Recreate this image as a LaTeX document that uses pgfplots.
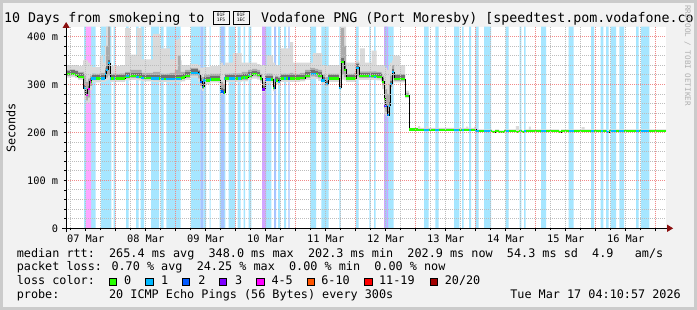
\documentclass[border=0pt]{standalone}
\usepackage{fontspec}
\setmainfont{DejaVu Sans Mono}
\setmonofont{DejaVu Sans Mono}
\usepackage{xcolor}
\usepackage{pgfplots}
\pgfplotsset{compat=1.18}
\usepackage{pgfplotstable}
\usetikzlibrary{arrows.meta}
\definecolor{bgc}{HTML}{F2F2F2}
\definecolor{shA}{HTML}{CBCBCB}
\definecolor{cA}{HTML}{26FF00}
\definecolor{cB}{HTML}{00B8FF}
\definecolor{cC}{HTML}{0059FF}
\definecolor{cD}{HTML}{7E00FF}
\definecolor{cE}{HTML}{FF00FF}
\definecolor{cF}{HTML}{FF5500}
\definecolor{cG}{HTML}{FF0000}
\definecolor{cH}{HTML}{A10000}
\colorlet{bandB}{cB!35!white}
\colorlet{bandC}{cC!35!white}
\colorlet{bandD}{cD!35!white}
\colorlet{bandE}{cE!35!white}
\definecolor{smokeA}{HTML}{DADADA}
\definecolor{smokeB}{HTML}{ABABAB}
\definecolor{smokeC}{HTML}{707070}
\definecolor{mgrid}{HTML}{F08A8A}
\definecolor{ngrid}{HTML}{BDBDBD}
\definecolor{arrowred}{HTML}{8B1010}
\definecolor{wmark}{HTML}{B0B0B0}

\pgfplotsset{base/.style={at={(66.15pt,81.7pt)}, anchor=south west,
  scale only axis, width=600pt, height=201.3pt,
  xmin=4.18, xmax=244.18, ymin=0, ymax=419.4}}

% median rtt (ms) with smoke envelopes; h = hours since 07 Mar 00:00
\pgfplotstableread{
h med lo ilo ihi hi
4.18 321 314 317 330 340
5.72 322 315 318 331 340
7.72 320 313 316 329 340
8.92 316 309 312 326 338
10.92 314 305 309 326 350
11.32 292 268 280 318 352
12.12 277 262 266 305 350
12.92 290 262 272 312 345
13.72 305 288 296 318 340
14.52 312 304 308 322 336
17.7 312 305 308 324 360
19.0 312 305 308 324 345
19.72 322 306 312 335 380
20.12 330 308 314 380 420
20.92 344 310 318 420 420
21.72 312 305 308 322 338
25.72 312 305 308 323 340
27.72 316 308 312 326 417
29.72 317 309 313 330 362
32.4 316 308 312 330 417
34.4 313 306 310 324 352
39.0 312 305 308 326 405
41.7 311 305 308 322 375
45.7 311 305 308 324 352
47.7 312 305 308 330 392
48.9 312 305 308 360 395
50.0 312 305 308 326 350
50.4 314 306 310 326 340
51.72 318 309 313 330 340
53.72 324 314 318 334 342
56.92 321 305 312 330 340
57.72 305 290 296 318 335
58.52 295 286 290 315 335
59.32 308 300 304 320 336
61.72 310 304 307 322 338
64.92 310 303 306 322 340
65.72 285 280 282 305 345
66.92 283 279 281 300 340
67.72 312 305 308 322 345
70.9 312 305 308 323 365
74.4 314 306 309 326 345
76.92 318 309 313 330 345
78.52 321 312 316 332 345
80.52 319 310 314 330 342
81.72 312 303 307 322 340
82.52 289 283 286 305 340
83.72 310 303 306 320 340
84.4 310 303 306 322 360
86.92 292 286 289 312 345
87.72 308 300 304 318 340
88.92 305 298 302 316 340
89.72 312 305 308 322 375
93.72 312 305 308 324 388
95.0 312 305 308 322 345
97.72 313 306 309 324 345
99.72 318 309 313 330 345
101.72 322 312 316 334 345
103.0 322 312 316 334 365
103.72 321 311 315 332 365
104.92 318 307 312 330 365
106.52 308 300 304 320 340
107.72 300 295 297 315 338
108.92 312 305 308 322 340
113.32 293 288 290 312 340
113.72 293 288 290 330 417
114.12 347 310 320 417 420
115.32 330 308 314 380 420
116.12 312 305 308 322 345
119.32 312 305 308 324 345
120.12 334 310 316 345 350
121.32 318 309 313 328 345
121.7 317 309 313 327 375
123.7 317 309 313 327 345
126.4 317 309 313 327 370
128.4 316 308 312 326 340
130.12 315 305 309 325 340
130.52 305 290 297 318 340
131.32 270 240 250 300 340
131.72 254 235 242 290 335
132.52 236 232 234 280 330
133.32 255 240 246 300 340
133.72 300 290 294 318 345
134.52 325 305 312 340 350
135.0 325 305 312 340 360
135.32 311 304 307 321 360
137.72 311 304 307 321 340
139.72 276 271 273 282 287
141.32 206 204 205 207 209
144.92 205 204 204.5 207 213
145.72 205 204 204.5 207 209
148.12 205 204 204.5 207 213
148.92 205 204 204.5 207 209
164.12 205 204 204.5 207 212
164.92 205 204 204.5 207 209
167.32 205 204 204.5 207 212
168.12 202.5 201.5 202 204 206
174.52 200.5 199.5 200 202 204
175.72 202.5 201.5 202 204 206
177.32 201 200 200.5 202.5 204
179.32 202.5 201.5 202 204 206
184.1 201 200 200.5 202.5 213
185.3 202.5 201.5 202 204 206
186.52 200.5 199.5 200 202 204
187.32 202.5 201.5 202 204 206
189.3 202.5 201.5 202 204 212
190.1 202.5 201.5 202 204 206
201.32 200.5 199.5 200 202 204
202.12 202.5 201.5 202 204 206
210.4 202.5 201.5 202 204 211
211.6 202.5 201.5 202 204 206
220.52 200.5 199.5 200 202 204
221.32 202.5 201.5 202 204 206
244.18 202.5 201.5 202 204 206
}\rtt

% loss background bands: start (top) / end (0)
\pgfplotstableread{
h y
11.32 420
12.12 0
14.12 420
16.0 0
18.12 420
22.24 0
23.2 420
23.84 0
28.12 420
29.2 0
32.12 420
33.2 0
34.0 420
35.32 0
38.12 420
41.32 0
42.0 420
43.2 0
44.24 420
50.0 0
54.12 420
57.84 0
59.04 420
60.12 0
61.6 420
62.0 0
65.6 420
67.84 0
69.2 420
71.84 0
72.8 420
74.0 0
75.2 420
75.72 0
77.2 420
78.24 0
84.12 420
86.24 0
88.92 420
89.84 0
91.32 420
92.12 0
101.84 420
104.12 0
106.24 420
109.2 0
113.44 420
114.0 0
120.12 420
121.2 0
125.44 420
126.0 0
127.32 420
128.0 0
132.92 420
135.2 0
147.32 420
149.2 0
151.84 420
153.2 0
159.32 420
161.44 0
162.52 420
163.2 0
165.32 420
166.12 0
167.84 420
169.2 0
171.32 420
174.12 0
180.0 420
181.2 0
185.6 420
186.24 0
187.32 420
188.0 0
194.12 420
196.12 0
205.2 420
207.2 0
214.12 420
215.32 0
218.0 420
219.04 0
220.12 420
221.2 0
222.0 420
224.12 0
225.44 420
227.32 0
232.12 420
233.2 0
234.12 420
237.44 0
}\bandone
\pgfplotstableread{
h y
57.84 420
59.04 0
66.12 420
67.44 0
87.32 420
88.12 0
93.04 420
93.6 0
131.72 420
132.52 0
}\bandtwo
\pgfplotstableread{
h y
82.52 420
84.12 0
131.32 420
132.92 0
}\bandthree
\pgfplotstableread{
h y
12.12 420
14.12 0
}\bandfour

% median segments with loss 1
\pgfplotstableread{
h y
11.32 292
12.12 292
nan nan
14.12 312
16.0 312
nan nan
18.12 312
19.72 322
20.12 330
20.92 344
21.72 312
22.24 312
nan nan
23.2 312
23.84 312
nan nan
28.12 317
29.2 317
nan nan
32.12 316
33.2 316
nan nan
34.0 313
35.32 313
nan nan
38.12 312
41.32 312
nan nan
42.0 311
43.2 311
nan nan
44.24 311
50.0 311
nan nan
54.12 324
56.92 321
57.72 305
57.84 305
nan nan
59.04 308
60.12 308
nan nan
61.6 310
62.0 310
nan nan
65.6 285
66.12 285
nan nan
67.44 312
67.84 312
nan nan
69.2 312
71.84 312
nan nan
72.8 312
74.0 312
nan nan
75.2 313
75.72 313
nan nan
77.2 320
78.24 320
nan nan
84.12 310
86.24 310
nan nan
88.92 305
89.84 305
nan nan
91.32 312
92.12 312
nan nan
101.84 321
104.12 321
nan nan
106.24 308
107.72 300
108.92 312
109.2 312
nan nan
113.44 293
114.0 293
nan nan
120.12 334
121.2 334
nan nan
125.44 317
126.0 317
nan nan
127.32 316
128.0 316
nan nan
132.92 236
133.32 255
133.72 300
134.52 325
135.2 325
nan nan
147.32 205
149.2 205
nan nan
151.84 205
153.2 205
nan nan
159.32 205
161.44 205
nan nan
162.52 205
163.2 205
nan nan
165.32 205
166.12 205
nan nan
167.84 205
168.12 202.5
169.2 202.5
nan nan
171.32 202.5
174.12 202.5
nan nan
180.0 202.5
181.2 202.5
nan nan
185.6 202.5
186.24 202.5
nan nan
187.32 202.5
188.0 202.5
nan nan
194.12 202.5
196.12 202.5
nan nan
205.2 202.5
207.2 202.5
nan nan
214.12 202.5
215.32 202.5
nan nan
218.0 202.5
219.04 202.5
nan nan
220.12 202.5
220.52 200.5
221.2 200.5
nan nan
222.0 202.5
224.12 202.5
nan nan
225.44 202.5
227.32 202.5
nan nan
232.12 202.5
233.2 202.5
nan nan
234.12 202.5
237.44 202.5
}\medone
\pgfplotstableread{
h y
57.84 305
58.52 295
59.04 295
nan nan
66.12 285
66.92 283
67.44 283
nan nan
87.32 292
87.72 308
88.12 308
nan nan
93.04 312
93.6 312
nan nan
131.72 254
132.52 236
132.62 236
}\medtwo
\pgfplotstableread{
h y
82.52 289
83.72 310
84.12 310
nan nan
131.32 254
131.72 254
}\medthree
\pgfplotstableread{
h y
12.12 277
12.92 290
13.72 305
14.12 305
}\medfour

\begin{document}
\begin{tikzpicture}
\clip (0pt,0pt) rectangle (697pt,310pt);
\fill[bgc] (0pt,0pt) rectangle (697pt,310pt);
\fill[white] (66.15pt,81.7pt) rectangle (666.15pt,283pt);

% loss bands
\begin{axis}[base, hide axis]
\addplot[const plot, fill=bandB, draw=none] table[x=h,y=y]{\bandone} \closedcycle;
\addplot[const plot, fill=bandE, draw=none] table[x=h,y=y]{\bandfour} \closedcycle;
\addplot[const plot, fill=bandD, draw=none] table[x=h,y=y]{\bandthree} \closedcycle;
\addplot[const plot, fill=bandC, draw=none] table[x=h,y=y]{\bandtwo} \closedcycle;
\end{axis}

% smoke (stacked: lo, ilo, ihi, hi)
\begin{axis}[base, hide axis, stack plots=y]
\addplot[const plot, draw=none] table[x=h,y=lo]{\rtt};
\addplot[const plot, draw=none, fill=smokeA] table[x=h,y expr=\thisrow{ilo}-\thisrow{lo}]{\rtt} \closedcycle;
\addplot[const plot, draw=none, fill=smokeB] table[x=h,y expr=\thisrow{ihi}-\thisrow{ilo}]{\rtt} \closedcycle;
\addplot[const plot, draw=none, fill=smokeA] table[x=h,y expr=\thisrow{hi}-\thisrow{ihi}]{\rtt} \closedcycle;
\end{axis}

\begin{axis}[base,
  axis x line=bottom, axis y line=left,
  axis on top,
  xtick={12,36,...,228},
  xticklabels={07 Mar,08 Mar,09 Mar,10 Mar,11 Mar,12 Mar,13 Mar,14 Mar,15 Mar,16 Mar},
  minor xtick={6,12,...,240},
  extra x ticks={24,48,...,240},
  extra x tick labels={},
  extra x tick style={xmajorgrids=true, major tick length=3pt},
  xmajorgrids=false, xminorgrids=true,
  ytick={0,100,200,300,400},
  yticklabels={0,100 m,200 m,300 m,400 m},
  minor y tick num=4,
  ymajorgrids=true, yminorgrids=true,
  major grid style={draw=mgrid, dash pattern=on 1pt off 1pt, line width=0.8pt},
  minor grid style={draw=ngrid, dash pattern=on 1pt off 1pt, line width=0.8pt},
  tick align=outside, major tick length=2.5pt, minor tick length=2pt,
  tick style={black, line width=0.7pt},
  x axis line style={line width=1pt, -{Triangle[length=6pt,width=7pt,color=arrowred]}, shorten >=-7pt, shorten <=-4pt},
  y axis line style={line width=1pt, -{Triangle[length=6pt,width=7pt,color=arrowred]}, shorten >=-5pt, shorten <=-4pt},
  tick label style={font=\fontsize{10.3pt}{12pt}\selectfont},
  xticklabel style={yshift=-1pt},
  yticklabel style={xshift=-2pt},
  unbounded coords=jump,
]
\addplot[jump mark left, smokeC, line width=2.5pt, yshift=2.3pt, restrict x to domain=0:141.3] table[x=h,y=med]{\rtt};
\addplot[const plot, black, line width=1pt] table[x=h,y=med]{\rtt};
\addplot[jump mark left, cA, line width=2.2pt] table[x=h,y=med]{\rtt};
\addplot[jump mark left, cB, line width=2.2pt] table[x=h,y=y]{\medone};
\addplot[jump mark left, cC, line width=2.2pt] table[x=h,y=y]{\medtwo};
\addplot[jump mark left, cD, line width=2.2pt] table[x=h,y=y]{\medthree};
\addplot[jump mark left, cE, line width=2.2pt] table[x=h,y=y]{\medfour};
\end{axis}

% title
\node[anchor=base west, inner sep=0pt, font=\fontsize{13.3pt}{16pt}\selectfont] at (4pt,287.3pt) {10 Days from smokeping to};
\draw[line width=0.6pt] (213pt,286pt) rectangle (229pt,299pt);
\node[inner sep=0pt, align=center, font=\fontsize{4.6pt}{5.2pt}\selectfont] at (221pt,292.5pt) {01F\\1F5};
\draw[line width=0.6pt] (233pt,286pt) rectangle (249pt,299pt);
\node[inner sep=0pt, align=center, font=\fontsize{4.6pt}{5.2pt}\selectfont] at (241pt,292.5pt) {01F\\1EC};
\node[anchor=base west, inner sep=0pt, font=\fontsize{13.3pt}{16pt}\selectfont] at (261pt,287.3pt) {Vodafone PNG (Port Moresby) [speedtest.pom.vodafone.com]};

% watermark
\node[rotate=-90, anchor=west, inner sep=0pt, text=wmark, font=\fontsize{7.6pt}{9pt}\selectfont] at (687.5pt,305pt) {RRDTOOL / TOBI OETIKER};

% y label
\node[rotate=90, inner sep=0pt, font=\fontsize{11.8pt}{14pt}\selectfont] at (11pt,182pt) {Seconds};

% legend
\begin{scope}[every node/.style={anchor=base west, inner sep=0pt, font=\fontsize{11.8pt}{14pt}\selectfont}]
\node at (16.6pt,52.7pt) {median rtt:\ \ 265.4 ms avg\ \ 348.0 ms max\ \ 202.3 ms min\ \ 202.9 ms now\ \ 54.3 ms sd\ \ 4.9\ \ \ am/s};
\node at (16.6pt,39.3pt) {packet loss: 0.70 \% avg\ \ 24.25 \% max\ \ 0.00 \% min\ \ 0.00 \% now};
\node at (16.6pt,25.3pt) {loss color:};
\node at (124pt,25.3pt) {0};
\node at (160.9pt,25.3pt) {1};
\node at (198.2pt,25.3pt) {2};
\node at (234.9pt,25.3pt) {3};
\node at (271.3pt,25.3pt) {4-5};
\node at (321.1pt,25.3pt) {6-10};
\node at (378.9pt,25.3pt) {11-19};
\node at (444.6pt,25.3pt) {20/20};
\node at (16.6pt,11.7pt) {probe:};
\node at (108.9pt,11.7pt) {20 ICMP Echo Pings (56 Bytes) every 300s};
\node[anchor=base east] at (681pt,11.7pt) {Tue Mar 17 04:10:57 2026};
\end{scope}
\foreach \xx/\cc in {109/cA,145.7/cB,182.3/cC,219.3/cD,256.6/cE,306.9/cF,364.6/cG,430/cH}{
  \filldraw[fill=\cc, draw=black, line width=0.7pt] (\xx pt,24.4pt) rectangle ++(7.3pt,7.4pt);
}

% frame
\fill[shA] (0pt,0pt) rectangle (2.7pt,310pt);
\fill[shA] (0pt,307.3pt) rectangle (697pt,310pt);
\fill[shA] (694.3pt,0pt) rectangle (697pt,310pt);
\fill[shA] (0pt,0pt) rectangle (697pt,2.7pt);
\end{tikzpicture}
\end{document}
